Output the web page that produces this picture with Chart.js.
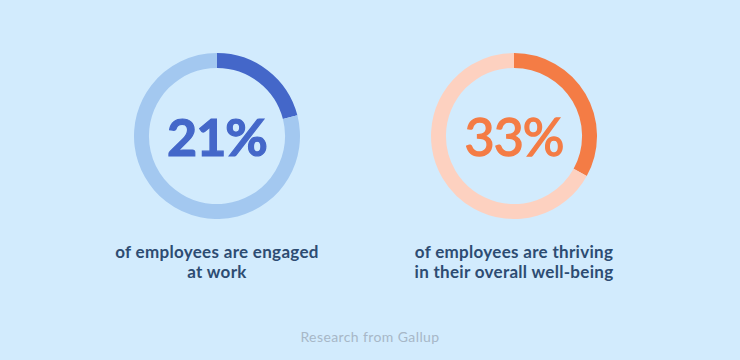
<!DOCTYPE html>
<html>
<head>
<meta charset="utf-8">
<script src="https://cdn.jsdelivr.net/npm/chart.js@4/dist/chart.umd.min.js"></script>
<style>
  html, body { margin: 0; padding: 0; }
  body { width: 740px; height: 360px; background: #d2ebfd; position: relative; overflow: hidden; font-family: Lato, "Open Sans", sans-serif; }
  .ring { position: absolute; width: 166px; height: 166px; }
  .pct { position: absolute; width: 200px; text-align: center; font-size: 52px; line-height: 52px; letter-spacing: -1px; }
  .cap { position: absolute; width: 280px; text-align: center; font-size: 17px; letter-spacing: 0.3px; font-weight: bold; color: #2d4c72; line-height: 20px; }
  #src { position: absolute; left: 0; width: 740px; top: 328px; text-align: center; font-size: 14px; letter-spacing: 0.4px; color: #a7b7c7; }
</style>
</head>
<body>
<div class="ring" style="left:134px; top:53px;"><canvas id="c1" width="166" height="166"></canvas></div>
<div class="ring" style="left:431px; top:53px;"><canvas id="c2" width="166" height="166"></canvas></div>
<div class="pct" id="p1" style="left:117px; top:110px; color:#4467c9; font-weight:bold; -webkit-text-stroke:1.2px #4467c9;"></div>
<div class="pct" id="p2" style="left:414px; top:110px; color:#f47c45; font-weight:normal; -webkit-text-stroke:1.4px #f47c45;"></div>
<div class="cap" id="t1" style="left:77px; top:242px;"></div>
<div class="cap" id="t2" style="left:374px; top:242px;"></div>
<div id="src">Research from Gallup</div>
<script>
// share of employees (%)
const engaged = [21, 79];
const thriving = [33, 67];
const segLabels = ['Yes', 'No'];
const captions1 = ['of employees are engaged', 'at work'];
const captions2 = ['of employees are thriving', 'in their overall well-being'];

document.getElementById('p1').textContent = engaged[0] + '%';
document.getElementById('p2').textContent = thriving[0] + '%';
document.getElementById('t1').innerHTML = captions1.join('<br>');
document.getElementById('t2').innerHTML = captions2.join('<br>');

function ring(id, values, colors) {
  new Chart(document.getElementById(id), {
    type: 'doughnut',
    data: {
      labels: segLabels,
      datasets: [{
        data: values,
        backgroundColor: colors,
        borderWidth: 0
      }]
    },
    options: {
      responsive: false,
      animation: false,
      cutout: '82%',
      plugins: { legend: { display: false }, tooltip: { enabled: false } }
    }
  });
}

ring('c1', engaged, ['#4467c9', '#a3c8f0']);
ring('c2', thriving, ['#f47c45', '#fdd1c0']);
</script>
</body>
</html>
